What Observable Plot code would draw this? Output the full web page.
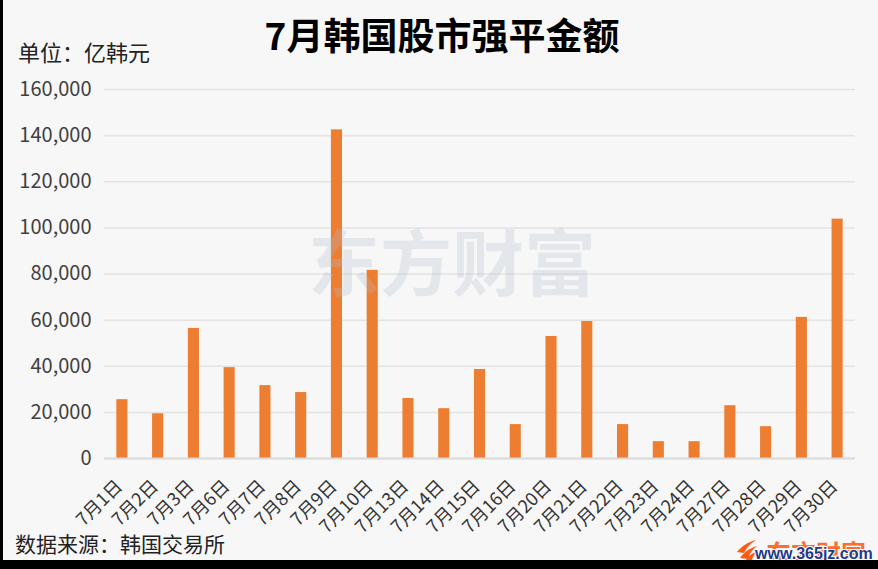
<!DOCTYPE html>
<html>
<head>
<meta charset="utf-8">
<script src="https://cdn.jsdelivr.net/npm/d3@7"></script>
<script src="https://cdn.jsdelivr.net/npm/@observablehq/plot@0.6"></script>
<style>
  html, body { margin: 0; padding: 0; background: #f7f7f7; overflow: hidden; }
  svg { display: block; }
</style>
</head>
<body>
<div id="chart"></div>
<script>
const titleText = "7月韩国股市强平金额";
const unitText = "单位：亿韩元";
const sourceText = "数据来源：韩国交易所";
const dates = ["7月1日","7月2日","7月3日","7月6日","7月7日","7月8日","7月9日","7月10日","7月13日","7月14日","7月15日","7月16日","7月20日","7月21日","7月22日","7月23日","7月24日","7月27日","7月28日","7月29日","7月30日"];
const values = [25500, 19400, 56400, 39400, 31600, 28600, 142500, 81600, 26000, 21600, 38600, 14700, 52900, 59400, 14700, 7300, 7300, 22900, 13800, 61200, 103800];
const yTicks = [0, 20000, 40000, 60000, 80000, 100000, 120000, 140000, 160000];

const data = dates.map((d, i) => ({date: d, value: values[i]}));
const font = "'Noto Sans CJK SC', 'Noto Sans', sans-serif";

const chart = Plot.plot({
  width: 878,
  height: 569,
  marginLeft: 104,
  marginRight: 23,
  marginTop: 89,
  marginBottom: 111,
  style: {background: "#f7f7f7", fontFamily: font, color: "#404040", overflow: "visible"},
  x: {domain: dates, paddingInner: 0.69, paddingOuter: 0.345, align: 0.5, round: false, label: null, axis: null},
  y: {domain: [0, 160000], label: null},
  marks: [
    Plot.ruleY(yTicks.filter(t => t > 0), {stroke: "#e3e3e3", strokeWidth: 1.5}),
    Plot.barY(data, {x: "date", y: "value", fill: "#ED7D31"}),
    Plot.ruleY([0], {stroke: "#d9d9d9", strokeWidth: 2}),
    Plot.axisY({ticks: yTicks, tickSize: 0, tickPadding: 13, tickFormat: d3.format(","), fontSize: 20, fill: "#404040", label: null}),
    Plot.text(dates, {x: d => d, text: d => d, frameAnchor: "bottom", rotate: -45, textAnchor: "end", lineAnchor: "bottom", dx: 1, dy: 29, fontSize: 18, fill: "#333"}),
    Plot.text(["东方财富"], {frameAnchor: "middle", dx: -28, dy: -7, text: d => d, fontSize: 72, fontWeight: "bold", fill: "rgb(175,191,207)", fillOpacity: 0.28})
  ]
});

const svg = d3.select(chart);
svg.append("text").attr("x", 442).attr("y", 50).attr("text-anchor", "middle")
  .attr("font-family", font).attr("font-size", 37).attr("font-weight", "bold").attr("fill", "#000")
  .text(titleText);
svg.append("text").attr("x", 18).attr("y", 61).attr("text-anchor", "start")
  .attr("font-family", font).attr("font-size", 22).attr("fill", "#222")
  .text(unitText);
svg.append("text").attr("x", 15).attr("y", 552).attr("text-anchor", "start")
  .attr("font-family", font).attr("font-size", 21).attr("fill", "#222")
  .text(sourceText);
// bottom-right watermark logo
const logo = svg.append("g");
logo.append("path")
  .attr("d", "M737,552 C742,546 748,542 756,540 C750,544 746,548 744,553 Z M740,558 C744,552 750,548 757,546 C752,550 749,554 748,559 Z M746,560 C748,556 752,553 757,552 C754,555 752,558 752,560 Z")
  .attr("fill", "#ff5a14");
logo.append("text").attr("x", 766).attr("y", 563).attr("text-anchor", "start")
  .attr("font-family", font).attr("font-size", 25).attr("font-weight", "bold").attr("fill", "#ff5a14").attr("fill-opacity", 0.9)
  .text("东方财富");
logo.append("text").attr("x", 755).attr("y", 559).attr("text-anchor", "start")
  .attr("font-family", "'Liberation Sans', sans-serif").attr("font-size", 16).attr("font-weight", "bold")
  .attr("fill", "#1e3a8a").attr("stroke", "#ffffff").attr("stroke-width", 2).attr("paint-order", "stroke")
  .text("www.365jz.com");
// black frame edges
svg.append("rect").attr("x", 0).attr("y", 0).attr("width", 3).attr("height", 569).attr("fill", "#000");
svg.append("rect").attr("x", 0).attr("y", 560).attr("width", 878).attr("height", 9).attr("fill", "#000");

document.getElementById("chart").appendChild(chart);
</script>
</body>
</html>
